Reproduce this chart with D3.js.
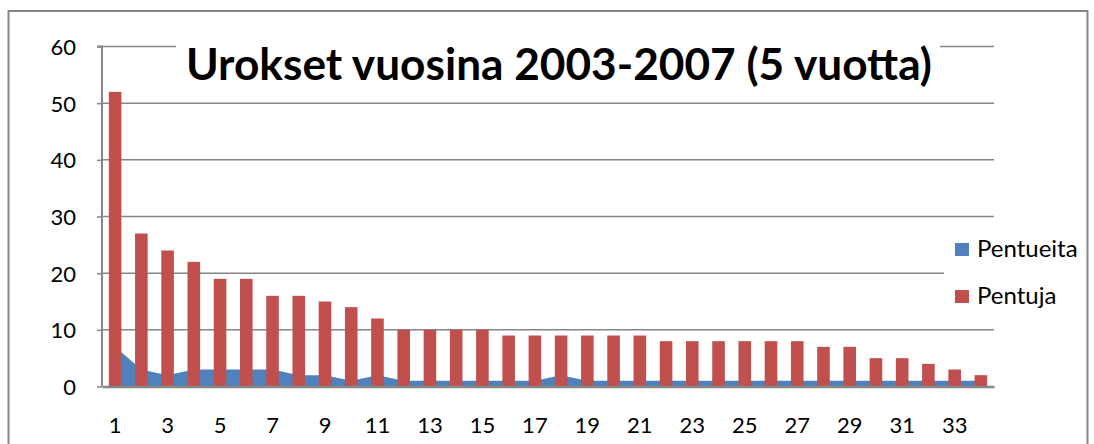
<!DOCTYPE html>
<html>
<head>
  <meta charset="utf-8">
  <title>Urokset vuosina 2003-2007</title>
  <script src="https://d3js.org/d3.v7.min.js"></script>
  <style>
    body { margin: 0; background: #fff; }
    svg { display: block; font-family: Lato, "Open Sans", sans-serif; }
    .grid line { stroke: #868686; stroke-width: 1.5px; }
  </style>
</head>
<body>
  <svg id="chart" width="1094" height="444"></svg>
  <script>
    // categories 1..34
    const categories = d3.range(1, 35);
    // Pentueita (litters) - blue area
    const pentueita = [7, 3, 2, 3, 3, 3, 3, 2, 2, 1, 2, 1, 1, 1, 1, 1, 1, 2, 1, 1,
                       1, 1, 1, 1, 1, 1, 1, 1, 1, 1, 1, 1, 1, 1];
    // Pentuja (puppies) - red columns
    const pentuja = [52, 27, 24, 22, 19, 19, 16, 16, 15, 14, 12, 10, 10, 10, 10, 9, 9, 9, 9, 9,
                     9, 8, 8, 8, 8, 8, 8, 7, 7, 5, 5, 4, 3, 2];
    const yTicks = [0, 10, 20, 30, 40, 50, 60];
    const seriesNames = ["Pentueita", "Pentuja"];
    const colors = ["#4F81BD", "#C0504D"];
    const font = "Lato, 'Open Sans', sans-serif";

    const svg = d3.select("#chart");

    // outer chart border
    svg.append("rect")
      .attr("x", 8.5).attr("y", 11)
      .attr("width", 1079).attr("height", 445)
      .attr("fill", "#fff")
      .attr("stroke", "#868686")
      .attr("stroke-width", 2);

    const plot = { left: 102, right: 994, top: 46.5, bottom: 386.5 };

    const x = d3.scaleBand()
      .domain(categories)
      .range([plot.left, plot.right])
      .paddingInner(0.52)
      .paddingOuter(0.26);

    const y = d3.scaleLinear()
      .domain([0, 60])
      .range([plot.bottom, plot.top]);

    // gridlines
    svg.append("g")
      .attr("class", "grid")
      .selectAll("line")
      .data(yTicks.slice(1))
      .join("line")
      .attr("x1", plot.left).attr("x2", plot.right)
      .attr("y1", d => y(d)).attr("y2", d => y(d));

    // blue area through category centres
    const cx = d => x(d) + x.bandwidth() / 2;
    const area = d3.area()
      .x((d, i) => cx(categories[i]))
      .y0(y(0))
      .y1(d => y(d));

    svg.append("path")
      .datum(pentueita)
      .attr("fill", colors[0])
      .attr("d", area);

    // red columns
    svg.append("g")
      .selectAll("rect")
      .data(pentuja)
      .join("rect")
      .attr("x", (d, i) => x(categories[i]))
      .attr("y", d => y(d))
      .attr("width", x.bandwidth())
      .attr("height", d => y(0) - y(d))
      .attr("fill", colors[1]);

    // y axis
    const yAxis = svg.append("g")
      .attr("transform", `translate(${plot.left},0)`)
      .call(d3.axisLeft(y).tickValues(yTicks).tickSize(5).tickPadding(21))
      .attr("font-size", 22)
      .attr("font-family", font);
    yAxis.select(".domain").attr("stroke", "#868686").attr("stroke-width", 2)
      .attr("d", `M-5,${plot.top}H0V${plot.bottom}`);
    yAxis.selectAll(".tick line").attr("stroke", "#868686").attr("stroke-width", 1.5);
    yAxis.selectAll(".tick text").attr("dy", "0.36em").attr("fill", "#000");

    // x axis
    const xAxis = svg.append("g")
      .attr("transform", `translate(0,${plot.bottom})`)
      .call(d3.axisBottom(x)
        .tickValues(categories.filter(d => d % 2 === 1))
        .tickSize(0).tickPadding(31))
      .attr("font-size", 22)
      .attr("font-family", font);
    xAxis.select(".domain").attr("stroke", "#868686").attr("stroke-width", 2.5);
    xAxis.selectAll(".tick text").attr("fill", "#000");

    // title with white background
    const titleBox = svg.append("rect").attr("fill", "#fff");
    const title = svg.append("text")
      .attr("x", 559).attr("y", 80)
      .attr("text-anchor", "middle")
      .attr("font-weight", "bold")
      .attr("font-size", 40)
      .text("Urokset vuosina 2003-2007 (5 vuotta)");
    const tw = title.node().getComputedTextLength();
    if (tw > 0) title.attr("font-size", 40 * 746 / tw);
    titleBox.attr("x", 176).attr("y", 30).attr("width", 764).attr("height", 60);

    // legend
    const legend = svg.append("g");
    legend.append("rect")
      .attr("x", 944).attr("y", 226).attr("width", 142).attr("height", 94)
      .attr("fill", "#fff");
    const item = legend.selectAll("g.item")
      .data(seriesNames)
      .join("g")
      .attr("class", "item")
      .attr("transform", (d, i) => `translate(955,${243 + i * 47})`);
    item.append("rect")
      .attr("width", 14).attr("height", 13)
      .attr("fill", (d, i) => colors[i]);
    item.append("text")
      .attr("x", 22).attr("y", 14)
      .attr("font-size", 24)
      .text(d => d);
  </script>
</body>
</html>
